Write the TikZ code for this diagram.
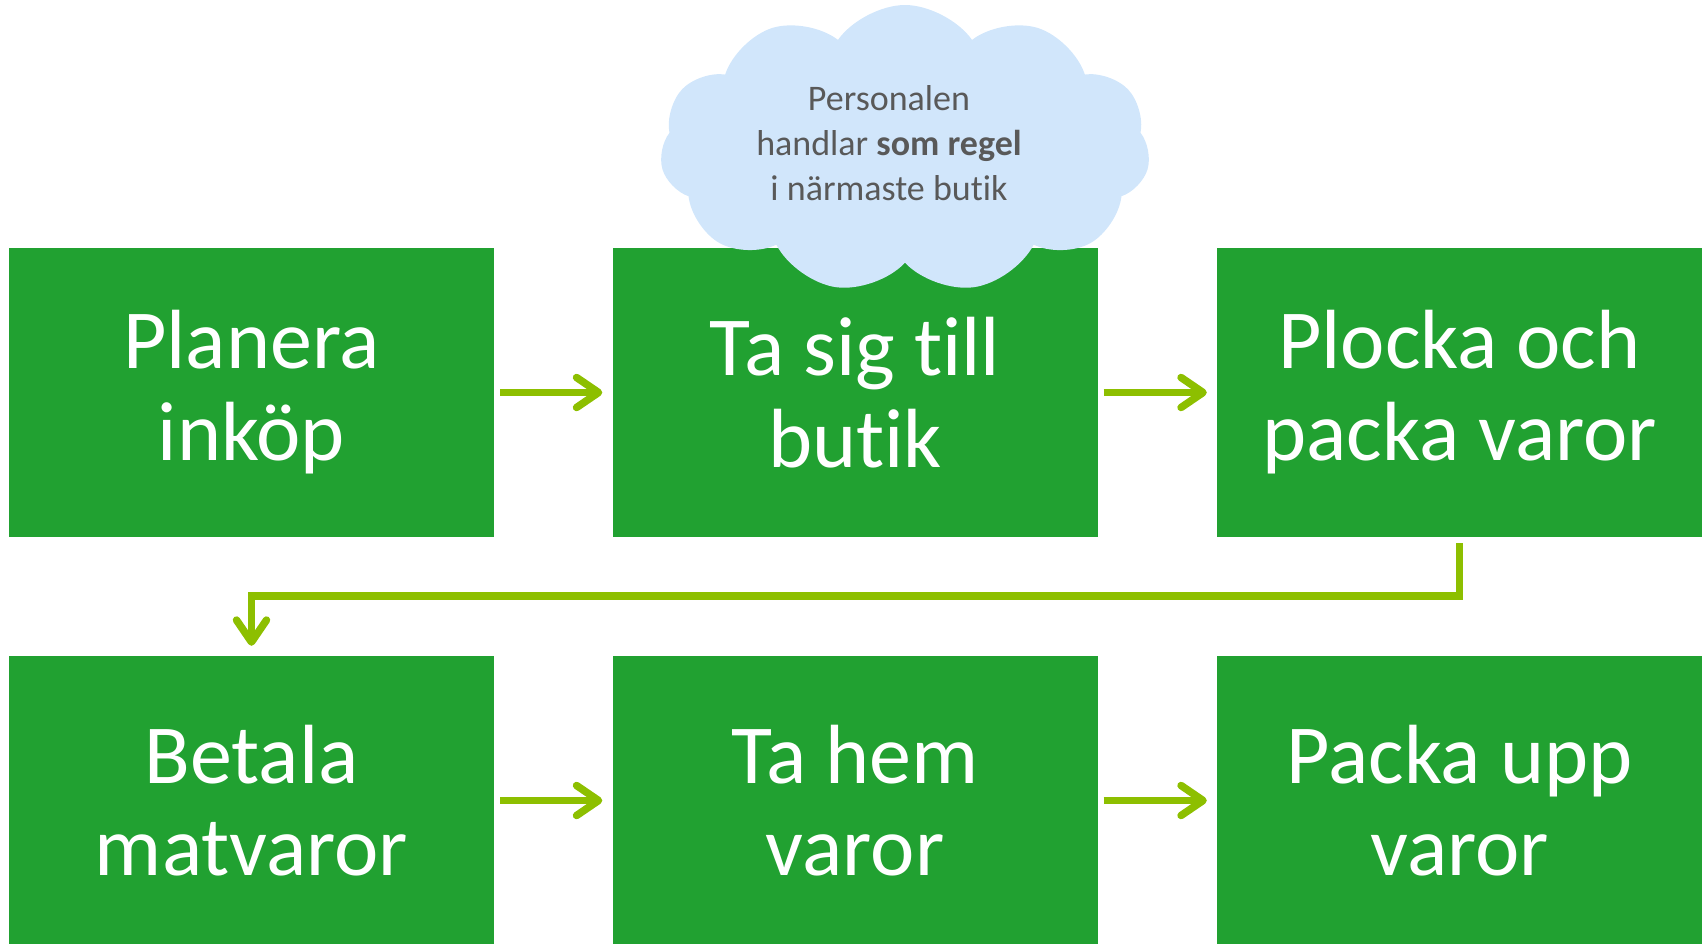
\documentclass[tikz,border=0pt]{standalone}
\usepackage{fontspec}
\setmainfont[Ligatures=NoCommon]{Carlito}
\usepackage{xcolor}
\usetikzlibrary{shapes.symbols,arrows.meta}
\definecolor{boxgreen}{RGB}{33,161,49}
\definecolor{arrowgreen}{RGB}{141,191,0}
\definecolor{cloudblue}{RGB}{209,230,251}
\definecolor{cloudtext}{RGB}{89,89,89}

\begin{document}
\begin{tikzpicture}[x=1pt, y=-1pt,
    stage/.style={rectangle, fill=boxgreen, minimum width=485pt, minimum height=289pt, inner sep=0pt, text=white, align=center, font=\fontsize{84}{92}\selectfont},
    flow/.style={-{Straight Barb[length=22pt,width=30pt,round]}, line width=7.5pt, arrowgreen, shorten <=6pt, shorten >=10pt}]
    \useasboundingbox (0,0) rectangle (1702,943);

    \node[stage] (plan) at (251.5,392.5) {Planera\\inköp};
    \node[stage] (travel) at (855,392.5) {Ta sig till\\butik};
    \node[stage] (pick) at (1459.5,392.5) {Plocka och\\packa varor};

    \node[stage] (pay) at (251.5,800.5) {Betala\\matvaror};
    \node[stage] (home) at (855,800.5) {Ta hem\\varor};
    \node[stage] (unpack) at (1459.5,800.5) {Packa upp\\varor};

    % the note over the second step
    \node[cloud, cloud puffs=11, cloud puff arc=110, cloud ignores aspect, fill=cloudblue, minimum width=490pt, minimum height=288pt, inner sep=0pt,
        label={[name=notetext, text=cloudtext, align=center, font=\fontsize{36}{45}\selectfont, xshift=-16pt, yshift=6pt]center:Personalen\\handlar \textbf{som regel}\\i närmaste butik}] (note) at (905,149) {};

    \draw[flow] (plan) -- (travel);
    \draw[flow] (travel) -- (pick);
    \draw[flow] (pick.south) -- ++(0,59) -| (pay.north);
    \draw[flow] (pay) -- (home);
    \draw[flow] (home) -- (unpack);
\end{tikzpicture}
\end{document}
